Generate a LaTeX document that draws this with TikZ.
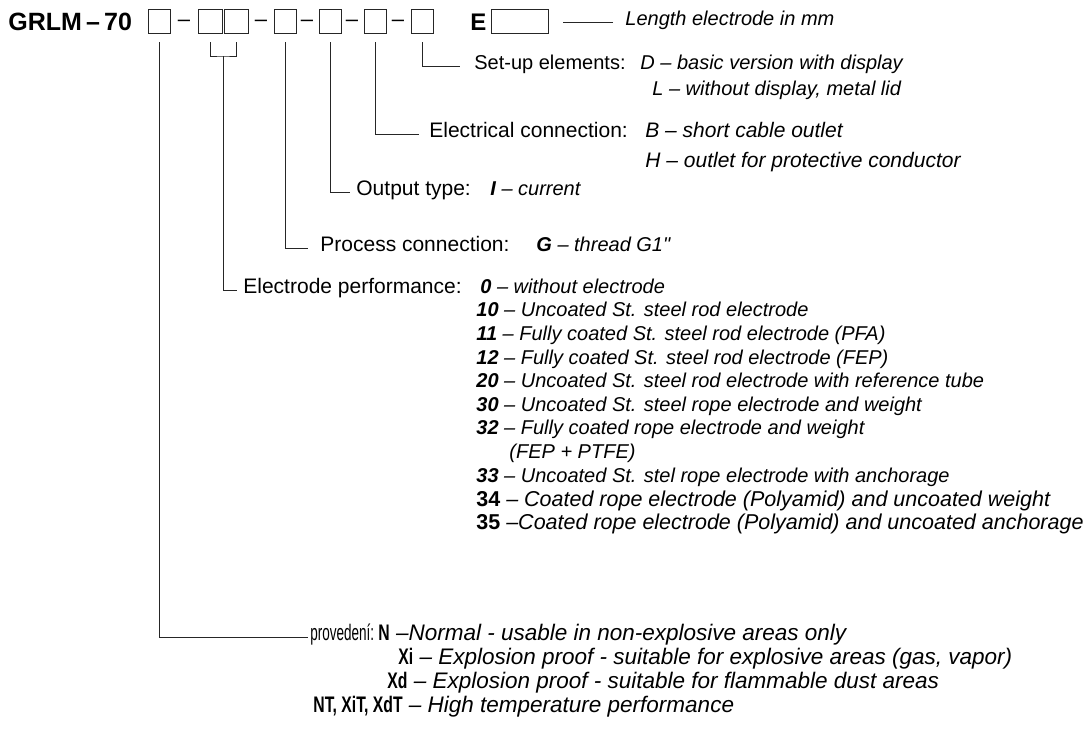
\documentclass[tikz,border=0pt]{standalone}
\usepackage{fontspec}
\setmainfont{Liberation Sans}
\newfontfamily\narrowfont[FakeStretch=0.6]{Liberation Sans}
\newfontfamily\narrowbold[FakeStretch=0.7]{Liberation Sans Bold}
\begin{document}
\begin{tikzpicture}[x=1pt, y=-1pt,
    box/.style={draw, minimum width=22pt, minimum height=24pt, inner sep=0pt},
    lbl/.style={anchor=base west, inner sep=0pt, font=\fontsize{21}{25}\selectfont},
    val/.style={anchor=base west, inner sep=0pt, font=\fontsize{20}{24}\selectfont\itshape},
    pval/.style={anchor=base west, inner sep=0pt, font=\fontsize{22.5}{26}\selectfont\itshape},
    sep/.style={anchor=base, inner sep=0pt, font=\fontsize{22}{26}\selectfont},
    line width=0.8pt, draw=black!85
]
\useasboundingbox (0,0) rectangle (1087,744);

% Typovy kod
\node[anchor=base west, inner sep=0pt, font=\fontsize{25}{30}\selectfont\bfseries] (code) at (8,30) {GRLM\,–\,70};
\node[box] (b1) at (159,21) {};
\node[box, minimum width=24pt] (b2) at (210,21) {};
\node[box, minimum width=24pt] (b3) at (236,21) {};
\node[box] (b4) at (285,21) {};
\node[box] (b5) at (330,21) {};
\node[box] (b6) at (375,21) {};
\node[box] (b7) at (422,21) {};
\foreach \x [count=\i] in {184,261,307,352,398}
    \node[sep] (d\i) at (\x,26) {–};
\node[anchor=base west, inner sep=0pt, font=\fontsize{24}{28}\selectfont\bfseries] (elet) at (470,30) {E};
\node[box, minimum width=57pt] (bE) at (520,21) {};
\coordinate (brk) at (223,56);

% Popisy
\node[val] (len) at (625,25) {Length electrode in mm};

\node[lbl, font=\fontsize{20}{24}\selectfont] (setup) at (474,69) {Set-up elements:};
\node[val] (setD) at (640,69) {D – basic version with display};
\node[val] (setL) at (652,95) {L – without display, metal lid};

\node[lbl] (elec) at (429,137) {Electrical connection:};
\node[val, font=\fontsize{21}{25}\selectfont\itshape] (elecB) at (645,137) {B – short cable outlet};
\node[val, font=\fontsize{21}{25}\selectfont\itshape] (elecH) at (645,167) {H – outlet for protective conductor};

\node[lbl] (outp) at (356,195) {Output type:};
\node[val] (outI) at (490,195) {\textbf{I} – current};

\node[lbl] (proc) at (320,251) {Process connection:};
\node[val] (procG) at (536,251) {\textbf{G} – thread G1\textquotedbl};

\node[lbl] (perf) at (243,293) {Electrode performance:};
\node[val] (e0) at (480,293) {\textbf{0} – without electrode};
\node[val] (e10) at (476,316) {\textbf{10} – Uncoated St. steel rod electrode};
\node[val] (e11) at (476,340) {\textbf{11} – Fully coated St. steel rod electrode (PFA)};
\node[val] (e12) at (476,364) {\textbf{12} – Fully coated St. steel rod electrode (FEP)};
\node[val] (e20) at (476,387) {\textbf{20} – Uncoated St. steel rod electrode with reference tube};
\node[val] (e30) at (476,411) {\textbf{30} – Uncoated St. steel rope electrode and weight};
\node[val] (e32) at (476,434) {\textbf{32} – Fully coated rope electrode and weight};
\node[val] (e32b) at (509,458) {(FEP + PTFE)};
\node[val] (e33) at (476,482) {\textbf{33} – Uncoated St. stel rope electrode with anchorage};
\node[val, font=\fontsize{21.5}{24}\selectfont\itshape] (e34) at (476,506) {\textbf{\upshape 34} – Coated rope electrode (Polyamid) and uncoated weight};
\node[val, font=\fontsize{21.5}{24}\selectfont\itshape] (e35) at (476,529) {\textbf{\upshape 35} –Coated rope electrode (Polyamid) and uncoated anchorage};

\node[lbl, font=\fontsize{22.5}{26}\narrowfont] (prov) at (310,640) {provedení:};
\node[pval] (pN) at (378,640) {{\narrowbold\upshape N} –Normal - usable in non-explosive areas only};
\node[pval] (pXi) at (398,664) {{\narrowbold\upshape Xi} – Explosion proof - suitable for explosive areas (gas, vapor)};
\node[pval] (pXd) at (387,688) {{\narrowbold\upshape Xd} – Explosion proof - suitable for flammable dust areas};
\node[pval] (pNT) at (313,712) {{\narrowbold\upshape NT, XiT, XdT} – High temperature performance};

% Spojnice
\draw ([xshift=-12pt]len.mid west) -- ++(-50,0);
\draw ([yshift=-9pt]b7.south) |- ([xshift=-14pt]setup.mid west);
\draw ([yshift=-9pt]b6.south) |- ([xshift=-10pt]elec.mid west);
\draw ([yshift=-9pt]b5.south) |- ([xshift=-6pt]outp.mid west);
\draw ([yshift=-9pt]b4.south) |- ([xshift=-12pt]proc.mid west);
\draw ([yshift=-9pt]b2.south) |- (brk) -| ([yshift=-9pt]b3.south);
\draw (brk) |- ([xshift=-6pt]perf.mid west);
\draw ([yshift=-9pt]b1.south) |- ([xshift=-2pt]prov.mid west);
\end{tikzpicture}
\end{document}
